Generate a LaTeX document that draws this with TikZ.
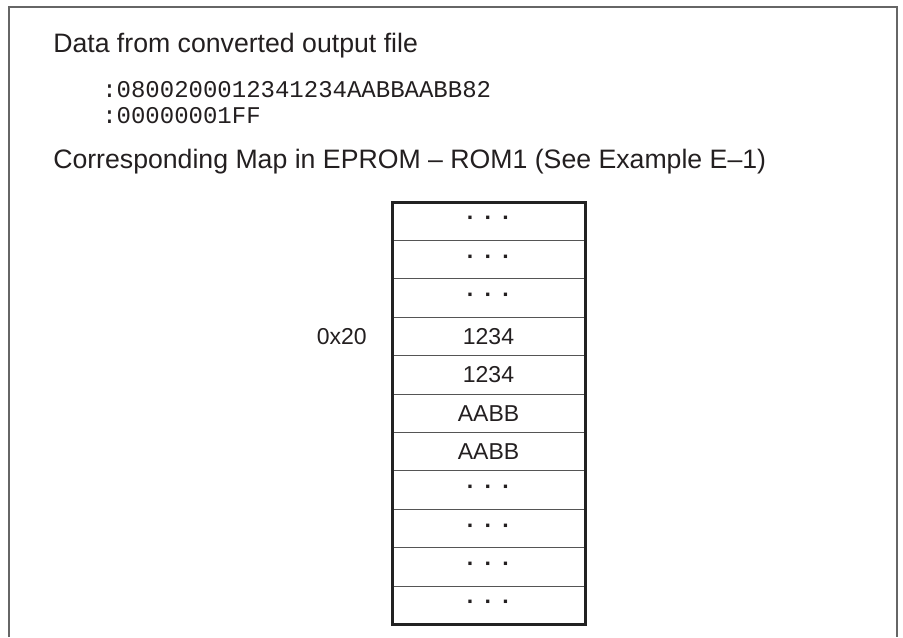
\documentclass[tikz,border=0pt]{standalone}
\usepackage{fontspec}
\setmainfont{Liberation Sans}
\setmonofont{Liberation Mono}
\usepackage{tikz}
\usetikzlibrary{positioning}
\definecolor{FrameGray}{HTML}{666666}
\definecolor{CellLine}{HTML}{555555}
\definecolor{BoxEdge}{HTML}{222222}
\definecolor{InkText}{HTML}{231F20}
\newcommand{\memdots}{\textbf{·}\hspace{7.6pt}\textbf{·}\hspace{7.6pt}\textbf{·}}

\begin{document}
\begin{tikzpicture}[x=0.75pt,y=-0.75pt,
  heading/.style={anchor=base west,inner sep=0pt,text=InkText,font=\fontsize{20}{24}\selectfont},
  hexline/.style={anchor=base west,inner sep=0pt,text=InkText,font=\fontsize{18}{22}\selectfont\ttfamily},
  memrow/.style={draw=CellLine,line width=0.75pt,minimum width=144.75pt,minimum height=28.8pt,inner sep=0pt,outer sep=0pt,text=InkText,font=\fontsize{17.25}{20}\selectfont},
  addr/.style={inner sep=0pt,text=InkText,font=\fontsize{17.25}{20}\selectfont}]
  \useasboundingbox (0,0) rectangle (903,637);
  \draw[FrameGray,line width=1.5pt] (9,637) -- (9,7) -- (897,7) -- (897,637);
  \node[heading] (title) at (53,52) {Data from converted output file};
  \node[hexline] (hex1) at (102,97) {:0800200012341234AABBAABB82};
  \node[hexline] (hex2) at (102,123) {:00000001FF};
  \node[heading] (maptitle) at (53,168) {Corresponding Map in EPROM – ROM1 (See Example E–1)};
  \foreach \cell [count=\i] in {\memdots,\memdots,\memdots,1234,1234,AABB,AABB,\memdots,\memdots,\memdots,\memdots}
    \node[memrow] (r\i) at (488.5,{202+38.4*(\i-0.5)}) {\cell};
  \draw[BoxEdge,line width=2.25pt] (r1.north west) rectangle (r11.south east);
  \node[addr,left=18.75pt of r4] (addr) {0x20};
\end{tikzpicture}
\end{document}
